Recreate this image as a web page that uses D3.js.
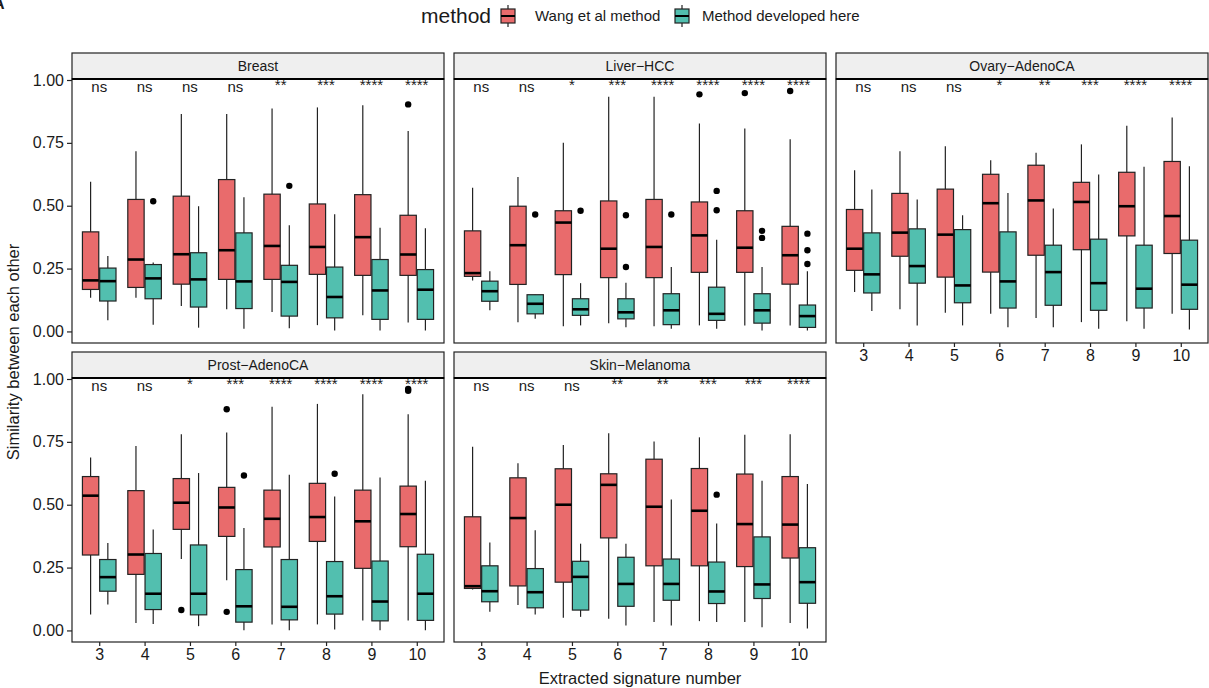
<!DOCTYPE html>
<meta charset="utf-8">
<head>
    <title>Similarity between extracted signatures</title>
    <script type="text/javascript" src="https://cdn.jsdelivr.net/npm/d3@7"></script>
    <style>
        body { margin: 0; background: white; }
        text { font-family: "Liberation Sans", Arial, Helvetica, sans-serif; fill: #1a1a1a; }
    </style>
</head>
<body>
<script>
    // categories on x and the two methods
    const categories = [3, 4, 5, 6, 7, 8, 9, 10];
    const methods = ["Wang et al method", "Method developed here"];
    const methodColors = ["#E96B6C", "#52BFAF"];
    const panelNames = ["Breast", "Liver\u2212HCC", "Ovary\u2212AdenoCA", "Prost\u2212AdenoCA", "Skin\u2212Melanoma"];

    // box stats per category: [whisker low, q1, median, q3, whisker high]
    const breastWang = [[0.134,0.167,0.203,0.396,0.595],[0.134,0.175,0.286,0.525,0.717],[0.101,0.188,0.307,0.538,0.865],[0.088,0.207,0.323,0.604,0.865],
                        [0.077,0.207,0.340,0.546,0.887],[0.025,0.227,0.336,0.507,0.891],[0.064,0.223,0.375,0.544,0.900],[0.036,0.223,0.306,0.462,0.797]];
    const breastNew  = [[0.044,0.121,0.200,0.252,0.300],[0.027,0.130,0.211,0.266,0.274],[0.015,0.097,0.207,0.313,0.498],[0.011,0.091,0.199,0.392,0.534],
                        [0.013,0.061,0.197,0.263,0.422],[0.004,0.054,0.137,0.256,0.466],[0.004,0.048,0.163,0.286,0.412],[0.004,0.048,0.166,0.246,0.410]];
    const liverWang  = [[0.203,0.219,0.232,0.400,0.571],[0.037,0.187,0.343,0.498,0.614],[0.021,0.226,0.433,0.480,0.750],[0.033,0.214,0.329,0.519,0.933],
                        [0.021,0.214,0.336,0.525,0.933],[0.024,0.235,0.382,0.515,0.827],[0.024,0.235,0.333,0.480,0.807],[0.024,0.188,0.303,0.418,0.764]];
    const liverNew   = [[0.084,0.120,0.160,0.200,0.239],[0.050,0.070,0.110,0.146,0.146],[0.024,0.064,0.088,0.130,0.192],[0.017,0.050,0.076,0.130,0.194],
                        [0.011,0.027,0.084,0.150,0.256],[0.011,0.044,0.070,0.176,0.365],[0.004,0.033,0.084,0.150,0.256],[0.004,0.016,0.061,0.105,0.239]];
    const ovaryWang  = [[0.157,0.243,0.329,0.485,0.641],[0.088,0.299,0.393,0.549,0.717],[0.074,0.216,0.385,0.566,0.737],[0.070,0.236,0.510,0.625,0.681],
                        [0.053,0.303,0.521,0.661,0.711],[0.037,0.325,0.515,0.593,0.744],[0.041,0.380,0.498,0.633,0.818],[0.070,0.310,0.459,0.676,0.851]];
    const ovaryNew   = [[0.081,0.153,0.227,0.392,0.565],[0.024,0.192,0.260,0.408,0.525],[0.024,0.114,0.183,0.405,0.462],[0.017,0.093,0.199,0.396,0.551],
                        [0.017,0.104,0.236,0.343,0.489],[0.011,0.084,0.192,0.367,0.624],[0.011,0.093,0.170,0.343,0.655],[0.008,0.088,0.186,0.363,0.657]];
    const prostWang  = [[0.063,0.300,0.536,0.612,0.688],[0.030,0.223,0.302,0.556,0.734],[0.284,0.402,0.508,0.604,0.780],[0.200,0.374,0.489,0.569,0.787],
                        [0.024,0.332,0.444,0.558,0.890],[0.024,0.354,0.451,0.585,0.901],[0.040,0.247,0.434,0.558,0.939],[0.040,0.333,0.463,0.574,0.860]];
    const prostNew   = [[0.103,0.156,0.212,0.282,0.348],[0.026,0.083,0.146,0.306,0.401],[0.017,0.062,0.146,0.340,0.626],[0.001,0.033,0.096,0.242,0.407],
                        [0.001,0.042,0.094,0.282,0.619],[0.004,0.065,0.136,0.274,0.533],[0.001,0.038,0.115,0.276,0.608],[0.001,0.040,0.146,0.303,0.595]];
    const skinWang   = [[0.163,0.167,0.176,0.452,0.731],[0.101,0.177,0.447,0.607,0.665],[0.050,0.192,0.500,0.643,0.738],[0.046,0.368,0.579,0.623,0.784],
                        [0.034,0.257,0.492,0.681,0.751],[0.037,0.257,0.476,0.644,0.768],[0.034,0.254,0.423,0.622,0.778],[0.030,0.288,0.421,0.612,0.780]];
    const skinNew    = [[0.074,0.114,0.156,0.257,0.350],[0.063,0.090,0.152,0.246,0.398],[0.054,0.081,0.213,0.275,0.345],[0.020,0.096,0.185,0.291,0.345],
                        [0.020,0.120,0.185,0.284,0.521],[0.034,0.107,0.155,0.272,0.425],[0.013,0.127,0.183,0.372,0.595],[0.008,0.108,0.192,0.329,0.582]];
    const panelStats = [[breastWang, breastNew], [liverWang, liverNew], [ovaryWang, ovaryNew], [prostWang, prostNew], [skinWang, skinNew]];

    // outliers: [category, method index, value]
    const breastOut = [[4,1,0.518],[7,1,0.579],[10,0,0.903]];
    const liverOut  = [[4,1,0.465],[5,1,0.480],[6,1,0.462],[6,1,0.256],[7,1,0.465],[8,0,0.943],[8,1,0.559],[8,1,0.482],
                       [9,0,0.948],[9,1,0.400],[9,1,0.372],[10,0,0.956],[10,1,0.389],[10,1,0.323],[10,1,0.268]];
    const ovaryOut  = [];
    const prostOut  = [[5,0,0.081],[6,0,0.880],[6,0,0.074],[6,1,0.616],[8,1,0.623],[10,0,0.953],[10,0,0.960]];
    const skinOut   = [[8,1,0.540]];
    const panelOutliers = [breastOut, liverOut, ovaryOut, prostOut, skinOut];

    // significance labels
    const breastSig = ["ns","ns","ns","ns","**","***","****","****"];
    const liverSig  = ["ns","ns","*","***","****","****","****","****"];
    const ovarySig  = ["ns","ns","ns","*","**","***","****","****"];
    const prostSig  = ["ns","ns","*","***","****","****","****","****"];
    const skinSig   = ["ns","ns","ns","**","**","***","***","****"];
    const panelSig = [breastSig, liverSig, ovarySig, prostSig, skinSig];

    const yTicks = [0, 0.25, 0.5, 0.75, 1];

    // layout
    const width = 1209, height = 688;
    const panelW = 372, plotH = 264, stripH = 26;
    const colLeft = [72, 454, 836];
    const rowTop = [79, 378];
    const layout = [[0,0],[1,0],[2,0],[0,1],[1,1]];   // [col,row]
    const xAxisPanels = [2, 3, 4];

    const svg = d3.select("body").append("svg")
        .attr("width", width)
        .attr("height", height);

    const x = d3.scalePoint().domain(categories).range([0, panelW]).padding(0.6);
    const y = d3.scaleLinear().domain([-0.046, 1.004]).range([plotH, 0]);
    const step = x.step();
    const boxW = step * 0.36;
    const dodge = step * 0.19;

    panelNames.forEach(function(name, p) {
        const col = layout[p][0], row = layout[p][1];
        const g = svg.append("g")
            .attr("transform", "translate(" + colLeft[col] + "," + rowTop[row] + ")");

        g.append("rect").attr("width", panelW).attr("height", plotH)
            .attr("fill", "white");

        g.append("clipPath").attr("id", "clip" + p)
            .append("rect").attr("width", panelW).attr("height", plotH);
        const inner = g.append("g").attr("clip-path", "url(#clip" + p + ")");

        // boxes
        panelStats[p].forEach(function(series, m) {
            const off = m === 0 ? -dodge : dodge;
            const bx = inner.append("g").selectAll("g")
                .data(series)
                .enter().append("g")
                .attr("transform", (d, i) => "translate(" + (x(categories[i]) + off) + ",0)");
            bx.append("line")
                .attr("y1", d => y(d[0])).attr("y2", d => y(d[4]))
                .attr("stroke", "#222").attr("stroke-width", 1.2);
            bx.append("rect")
                .attr("x", -boxW / 2).attr("width", boxW)
                .attr("y", d => y(d[3]))
                .attr("height", d => y(d[1]) - y(d[3]))
                .attr("fill", methodColors[m])
                .attr("stroke", "#222").attr("stroke-width", 1.2);
            bx.append("line")
                .attr("x1", -boxW / 2).attr("x2", boxW / 2)
                .attr("y1", d => y(d[2])).attr("y2", d => y(d[2]))
                .attr("stroke", "#000").attr("stroke-width", 2.6);
        });

        // outliers
        inner.append("g").selectAll("circle")
            .data(panelOutliers[p])
            .enter().append("circle")
            .attr("cx", d => x(d[0]) + (d[1] === 0 ? -dodge : dodge))
            .attr("cy", d => y(d[2]))
            .attr("r", 3.2)
            .attr("fill", "#000");

        // significance (stars sit higher and get cut by the strip)
        inner.append("g").selectAll("text")
            .data(panelSig[p])
            .enter().append("text")
            .attr("x", (d, i) => x(categories[i]))
            .attr("y", d => d === "ns" ? y(1) + 12 : y(1) + 9.5)
            .attr("text-anchor", "middle")
            .style("font-size", "15px")
            .text(d => d);

        g.append("rect").attr("width", panelW).attr("height", plotH)
            .attr("fill", "none").attr("stroke", "#222").attr("stroke-width", 1.2);

        // strip
        g.append("rect").attr("y", -stripH).attr("width", panelW).attr("height", stripH)
            .attr("fill", "#efefef").attr("stroke", "#222").attr("stroke-width", 1.2);
        g.append("line").attr("x1", 0).attr("x2", panelW)
            .attr("stroke", "#000").attr("stroke-width", 2);
        g.append("text")
            .attr("x", panelW / 2).attr("y", -stripH / 2 + 5)
            .attr("text-anchor", "middle")
            .style("font-size", "14px")
            .text(name);

        if (col === 0) {
            const ya = g.append("g")
                .call(d3.axisLeft(y).tickValues(yTicks).tickFormat(d3.format(".2f")).tickSize(5).tickPadding(3));
            ya.select(".domain").remove();
            ya.selectAll("line").attr("stroke", "#222").attr("stroke-width", 1.2);
            ya.selectAll("text").style("font-size", "16px").attr("fill", "#1a1a1a")
                .style("font-family", "'Liberation Sans', Arial, sans-serif");
        }
        if (xAxisPanels.indexOf(p) >= 0) {
            const xa = g.append("g")
                .attr("transform", "translate(0," + plotH + ")")
                .call(d3.axisBottom(x).tickSize(4).tickPadding(3));
            xa.select(".domain").remove();
            xa.selectAll("line").attr("stroke", "#222").attr("stroke-width", 1.2);
            xa.selectAll("text").style("font-size", "16px").attr("fill", "#1a1a1a")
                .style("font-family", "'Liberation Sans', Arial, sans-serif");
        }
    });

    // axis titles
    svg.append("text")
        .attr("x", 640).attr("y", 684)
        .attr("text-anchor", "middle")
        .style("font-size", "16.5px")
        .text("Extracted signature number");
    svg.append("text")
        .attr("transform", "translate(19,352) rotate(-90)")
        .attr("text-anchor", "middle")
        .style("font-size", "16.5px")
        .text("Similarity between each other");

    // panel tag, cut at the corner as in the source figure
    svg.append("text").attr("x", -7).attr("y", 9)
        .style("font-size", "16px").style("font-weight", "bold")
        .text("A");

    // legend
    const legend = svg.append("g");
    legend.append("text").attr("x", 421).attr("y", 23)
        .style("font-size", "21px").text("method");
    const keyX = [508, 682];
    const labelX = [535, 702];
    methods.forEach(function(mname, m) {
        const k = legend.append("g").attr("transform", "translate(" + keyX[m] + ",0)");
        k.append("line").attr("y1", 5).attr("y2", 27).attr("stroke", "#222").attr("stroke-width", 1.2);
        k.append("rect").attr("x", -7).attr("y", 9).attr("width", 14).attr("height", 14)
            .attr("fill", methodColors[m]).attr("stroke", "#222").attr("stroke-width", 1.2);
        k.append("line").attr("x1", -7).attr("x2", 7).attr("y1", 16).attr("y2", 16)
            .attr("stroke", "#000").attr("stroke-width", 2);
        legend.append("text").attr("x", labelX[m]).attr("y", 21)
            .style("font-size", "15px").text(mname);
    });
</script>
</body>
